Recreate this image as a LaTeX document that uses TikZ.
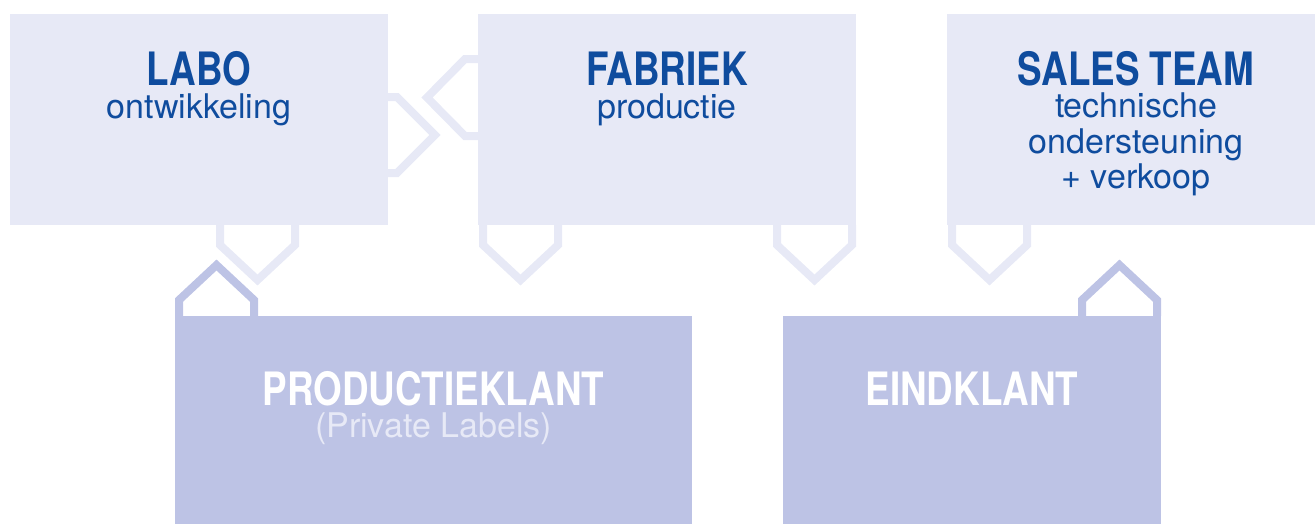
\documentclass[tikz,border=0pt]{standalone}
\usepackage{fontspec}
\setmainfont{TeX Gyre Heros}
\newfontfamily\condfont[FakeStretch=0.8]{TeX Gyre Heros}
\usetikzlibrary{calc}
\definecolor{kpaper}{HTML}{E7E9F6}
\definecolor{kdeep}{HTML}{BDC3E5}
\definecolor{kblue}{HTML}{0F4C9E}
\tikzset{
  topbox/.style={fill=kpaper, inner sep=0pt, outer sep=0pt, minimum width=378pt, minimum height=211pt, anchor=north west},
  lowbox/.style={fill=kdeep, inner sep=0pt, outer sep=0pt, minimum height=210pt, anchor=north west},
  ttl/.style={anchor=base, inner sep=0pt, text=kblue, font=\condfont\bfseries\fontsize{46}{46}\selectfont},
  sub/.style={anchor=base, inner sep=0pt, text=kblue, font=\fontsize{34}{36}\selectfont},
  vee/.style={draw=kpaper, line width=8pt, line join=miter},
  hat/.style={draw=kdeep, line width=8pt, line join=miter},
}

\begin{document}
\begin{tikzpicture}[x=1pt, y=-1pt]
    \clip (0,0) rectangle (1315,523);
    % top row
    \node[topbox] (labo) at (10,14) {};
    \node[topbox] (fabriek) at (478,14) {};
    \node[topbox] (sales) at (947,14) {};
    % bottom row
    \node[lowbox, minimum width=517pt] (prod) at (175,316) {};
    \node[lowbox, minimum width=378pt] (eind) at (783,316) {};
    % chevrons between the boxes
    \draw[vee] ($(labo.north east)+(0,83)$) -- ++(9,0) -- ++(38,38) -- ++(-38,38) -- ++(-9,0);
    \draw[vee] ($(fabriek.north west)+(0,45)$) -- ++(-13,0) -- ++(-38,38.5) -- ++(38,38.5) -- ++(13,0);
    \draw[vee] ($(labo.south west)+(210,0)$) -- ++(0,20) -- ++(37.5,35) -- ++(37.5,-35) -- ++(0,-20);
    \draw[vee] ($(fabriek.south west)+(5,0)$) -- ++(0,20) -- ++(37.5,35) -- ++(37.5,-35) -- ++(0,-20);
    \draw[vee] ($(fabriek.south west)+(299,0)$) -- ++(0,20) -- ++(37.5,35) -- ++(37.5,-35) -- ++(0,-20);
    \draw[vee] ($(sales.south west)+(5,0)$) -- ++(0,20) -- ++(37.5,35) -- ++(37.5,-35) -- ++(0,-20);
    \draw[hat] ($(prod.north west)+(4,0)$) -- ++(0,-16) -- ++(37.5,-35) -- ++(37.5,35) -- ++(0,16);
    \draw[hat] ($(eind.north west)+(299,0)$) -- ++(0,-16) -- ++(37.5,-35) -- ++(37.5,35) -- ++(0,16);
    % labels
    \node[ttl] (labot) at ($(labo.north)+(0,71)$) {LABO};
    \node[sub] (labos) at ($(labo.north)+(0,104)$) {ontwikkeling};
    \node[ttl] (fabt) at ($(fabriek.north)+(0,71)$) {FABRIEK};
    \node[sub] (fabs) at ($(fabriek.north)+(0,104)$) {productie};
    \node[ttl] (salest) at ($(sales.north)+(0,71)$) {SALES TEAM};
    \node[sub] (sales1) at ($(sales.north)+(0,103)$) {technische};
    \node[sub] (sales2) at ($(sales.north)+(0,139)$) {ondersteuning};
    \node[sub] (sales3) at ($(sales.north)+(0,174)$) {+ verkoop};
    \node[ttl, text=white] (prodt) at ($(prod.north)+(0,89)$) {PRODUCTIEKLANT};
    \node[sub, text=kpaper] (prods) at ($(prod.north)+(0,121)$) {(Private Labels)};
    \node[ttl, text=white] (eindt) at ($(eind.north)+(0,89)$) {EINDKLANT};
\end{tikzpicture}
\end{document}
